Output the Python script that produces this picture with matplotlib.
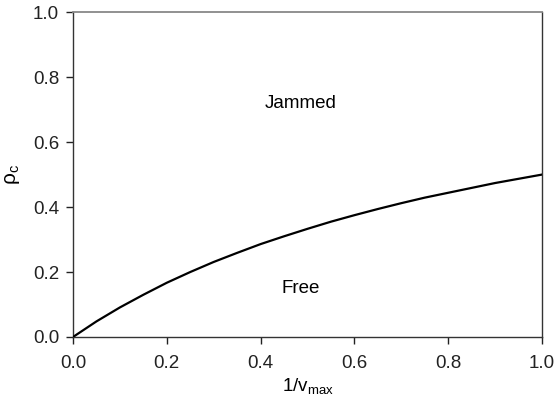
import matplotlib
matplotlib.use("Agg")
import matplotlib.pyplot as plt

plt.rcParams["font.family"] = ["Liberation Sans", "DejaVu Sans"]

# values
inv_vmax = [0.0, 0.05, 0.1, 0.15, 0.2, 0.25, 0.3, 0.35, 0.4, 0.45, 0.5,
            0.55, 0.6, 0.65, 0.7, 0.75, 0.8, 0.85, 0.9, 0.95, 1.0]
rho_c = [0.0, 0.048, 0.091, 0.130, 0.167, 0.200, 0.231, 0.259, 0.286, 0.310,
         0.333, 0.355, 0.375, 0.394, 0.412, 0.429, 0.444, 0.459, 0.474, 0.487, 0.5]
ticks = [0.0, 0.2, 0.4, 0.6, 0.8, 1.0]

fig = plt.figure(figsize=(5.59, 4.03), dpi=100)
ax = fig.add_axes([0.1306, 0.1638, 0.839, 0.806])

ax.plot(inv_vmax, rho_c, color="black", linewidth=1.6, zorder=3)

ax.set_xlim(0, 1)
ax.set_ylim(0, 1)
ax.set_xticks(ticks)
ax.set_yticks(ticks)
ax.set_xticklabels([f"{t:.1f}" for t in ticks])
ax.set_yticklabels([f"{t:.1f}" for t in ticks])
ax.tick_params(direction="out", length=5, width=1, labelsize=13.5,
               colors="#222222")
ax.tick_params(axis="x", pad=8)
ax.tick_params(axis="y", pad=5)

for side in ["left", "bottom", "right"]:
    ax.spines[side].set_color("#333333")
    ax.spines[side].set_linewidth(1)
ax.spines["top"].set_color("#888888")
ax.spines["top"].set_linewidth(1.3)

ax.set_xlabel(r"1/v$_{\mathregular{max}}$", fontsize=13.5, labelpad=3)
ax.set_ylabel(r"$\mathregular{\rho}_{\mathregular{c}}$", fontsize=15, labelpad=8)

ax.text(0.485, 0.72, "Jammed", ha="center", va="center", fontsize=13.5,
        transform=ax.transAxes)
ax.text(0.485, 0.148, "Free", ha="center", va="center", fontsize=13.5,
        transform=ax.transAxes)

fig.savefig("out.png", dpi=100, facecolor="white")
